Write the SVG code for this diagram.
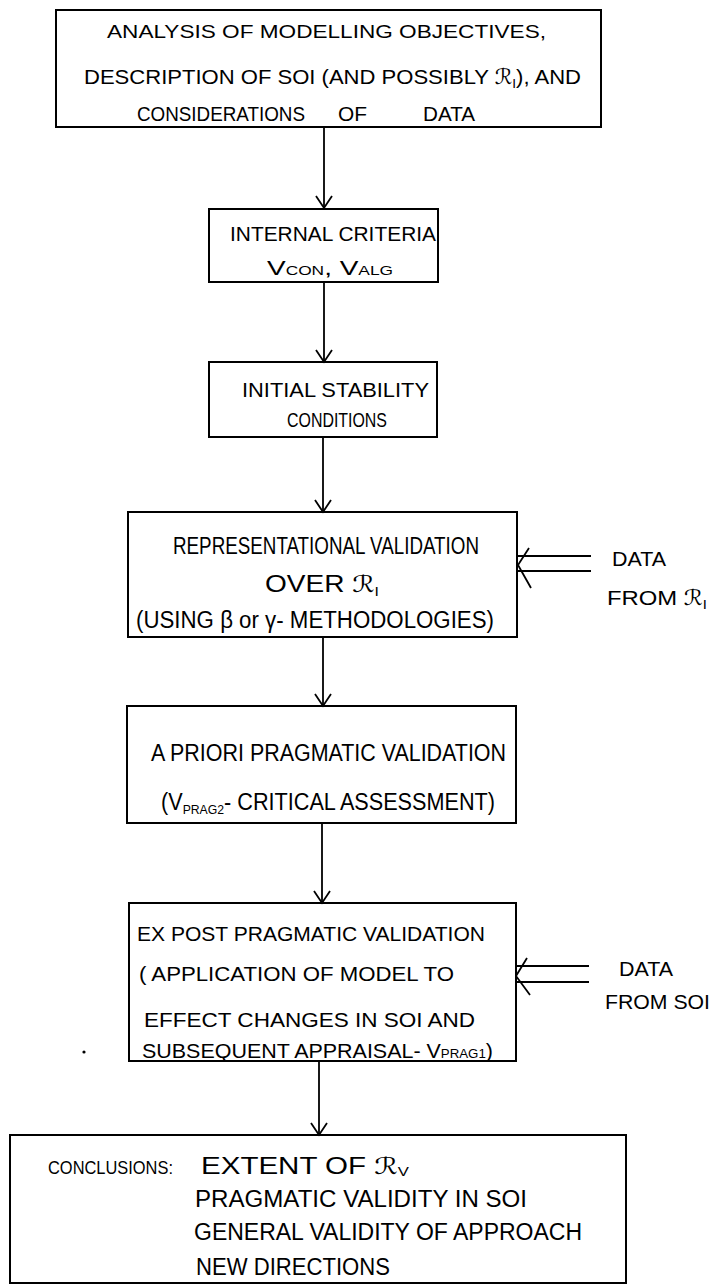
<svg xmlns="http://www.w3.org/2000/svg" width="712" height="1286" viewBox="0 0 712 1286">
<style>
.box{fill:none;stroke:#000;stroke-width:2}
.ln{fill:none;stroke:#000;stroke-width:1.8}
.t{font-family:"Liberation Sans","DejaVu Sans",sans-serif;font-size:21px;fill:#000}
.m{font-size:18px}
.l{font-size:23px}
.c{font-size:18px}
.s{font-size:13px}
</style>
<defs>
<marker id="ah" markerUnits="userSpaceOnUse" viewBox="-14 -10 16 20" markerWidth="16" markerHeight="20" refX="0" refY="0" orient="auto">
<path d="M-12,-8 L0,0 L-12,8" fill="none" stroke="#000" stroke-width="1.8"/>
</marker>
</defs>
<rect width="712" height="1286" fill="#fff"/>
<g id="connectors">
<line class="ln" x1="324" y1="127" x2="324" y2="208" marker-end="url(#ah)"/>
<line class="ln" x1="324" y1="282" x2="324" y2="362" marker-end="url(#ah)"/>
<line class="ln" x1="323" y1="437" x2="323" y2="512" marker-end="url(#ah)"/>
<line class="ln" x1="323" y1="637" x2="323" y2="706" marker-end="url(#ah)"/>
<line class="ln" x1="322" y1="823" x2="322" y2="903" marker-end="url(#ah)"/>
<line class="ln" x1="319" y1="1061" x2="319" y2="1135" marker-end="url(#ah)"/>
<line class="ln" x1="591" y1="556" x2="518" y2="556"/>
<line class="ln" x1="591" y1="571" x2="518" y2="571"/>
<path class="ln" d="M529,548 L518,565 L531,588"/>
<line class="ln" x1="589" y1="966" x2="516" y2="966"/>
<line class="ln" x1="589" y1="982" x2="516" y2="982"/>
<path class="ln" d="M527,958 L516,976 L530,995"/>
</g>
<g id="n1">
<rect class="box" x="56" y="10" width="545" height="117"/>
<text class="t m" x="107" y="38" textLength="439" lengthAdjust="spacingAndGlyphs">ANALYSIS OF MODELLING OBJECTIVES,</text>
<text class="t" x="84" y="84" textLength="497" lengthAdjust="spacingAndGlyphs">DESCRIPTION OF SOI (AND POSSIBLY ℛ<tspan class="s" dy="4">I</tspan><tspan dy="-4">), AND</tspan></text>
<text class="t" x="137" y="121" textLength="168" lengthAdjust="spacingAndGlyphs">CONSIDERATIONS</text>
<text class="t" x="338" y="121" textLength="29" lengthAdjust="spacingAndGlyphs">OF</text>
<text class="t" x="423" y="121" textLength="52" lengthAdjust="spacingAndGlyphs">DATA</text>
</g>
<g id="n2">
<rect class="box" x="209" y="209" width="229" height="73"/>
<text class="t" x="230" y="241" textLength="206" lengthAdjust="spacingAndGlyphs">INTERNAL CRITERIA</text>
<text class="t" x="267" y="275" textLength="126" lengthAdjust="spacingAndGlyphs">V<tspan class="s">CON</tspan>, V<tspan class="s">ALG</tspan></text>
</g>
<g id="n3">
<rect class="box" x="209" y="362" width="228" height="75"/>
<text class="t" x="242" y="397" textLength="187" lengthAdjust="spacingAndGlyphs">INITIAL STABILITY</text>
<text class="t" x="287" y="427" textLength="100" lengthAdjust="spacingAndGlyphs">CONDITIONS</text>
</g>
<g id="n4">
<rect class="box" x="128" y="512" width="389" height="125"/>
<text class="t l" x="173" y="554" textLength="306" lengthAdjust="spacingAndGlyphs">REPRESENTATIONAL VALIDATION</text>
<text class="t l" x="265" y="592" textLength="114" lengthAdjust="spacingAndGlyphs">OVER ℛ<tspan class="s" dy="4">I</tspan></text>
<text class="t l" x="136" y="628" textLength="358" lengthAdjust="spacingAndGlyphs">(USING β or γ- METHODOLOGIES)</text>
</g>
<g id="data1">
<text class="t" x="612" y="566" textLength="54" lengthAdjust="spacingAndGlyphs">DATA</text>
<text class="t" x="607" y="605" textLength="100" lengthAdjust="spacingAndGlyphs">FROM ℛ<tspan class="s" dy="4">I</tspan></text>
</g>
<g id="n5">
<rect class="box" x="127" y="706" width="389" height="117"/>
<text class="t l" x="151" y="761" textLength="355" lengthAdjust="spacingAndGlyphs">A PRIORI   PRAGMATIC VALIDATION</text>
<text class="t l" x="161" y="810" textLength="334" lengthAdjust="spacingAndGlyphs">(V<tspan class="s" dy="4">PRAG2</tspan><tspan dy="-4">- CRITICAL ASSESSMENT)</tspan></text>
</g>
<g id="n6">
<rect class="box" x="129" y="903" width="387" height="158"/>
<text class="t" x="137" y="941" textLength="348" lengthAdjust="spacingAndGlyphs">EX POST  PRAGMATIC VALIDATION</text>
<text class="t" x="139" y="981" textLength="315" lengthAdjust="spacingAndGlyphs">( APPLICATION OF MODEL TO</text>
<text class="t" x="144" y="1027" textLength="331" lengthAdjust="spacingAndGlyphs">EFFECT CHANGES IN SOI AND</text>
<text class="t" x="142" y="1058" textLength="351" lengthAdjust="spacingAndGlyphs">SUBSEQUENT APPRAISAL- V<tspan class="s">PRAG1</tspan>)</text>
</g>
<g id="data2">
<text class="t" x="619" y="976" textLength="54" lengthAdjust="spacingAndGlyphs">DATA</text>
<text class="t" x="605" y="1009" textLength="105" lengthAdjust="spacingAndGlyphs">FROM SOI</text>
</g>
<circle cx="84" cy="1052" r="1.6" fill="#000"/>
<g id="n7">
<rect class="box" x="10" y="1135" width="616" height="148"/>
<text class="t c" x="48" y="1174" textLength="125" lengthAdjust="spacingAndGlyphs">CONCLUSIONS:</text>
<text class="t l" x="201" y="1174" textLength="208" lengthAdjust="spacingAndGlyphs">EXTENT   OF  ℛ<tspan class="s" dy="2">V</tspan></text>
<text class="t l" x="195" y="1207" textLength="332" lengthAdjust="spacingAndGlyphs">PRAGMATIC VALIDITY IN SOI</text>
<text class="t l" x="194" y="1240" textLength="388" lengthAdjust="spacingAndGlyphs">GENERAL VALIDITY OF APPROACH</text>
<text class="t l" x="196" y="1275" textLength="194" lengthAdjust="spacingAndGlyphs">NEW DIRECTIONS</text>
</g>
</svg>
